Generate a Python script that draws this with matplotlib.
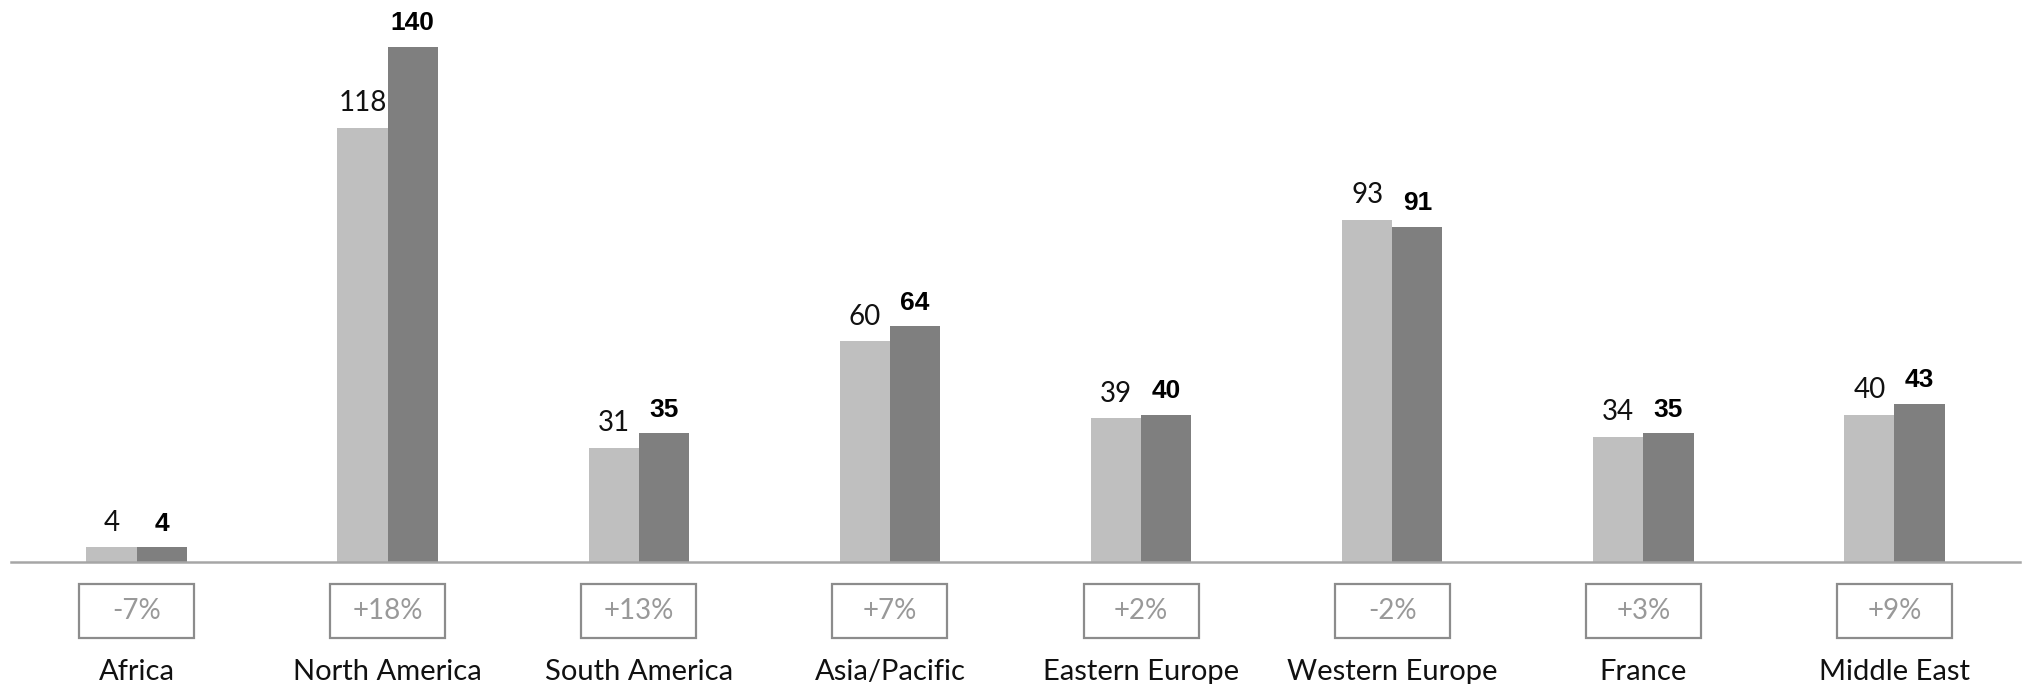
import matplotlib
matplotlib.use("Agg")
import matplotlib.pyplot as plt
from matplotlib.patches import Rectangle
import numpy as np

regions = ["Africa", "North America", "South America", "Asia/Pacific",
           "Eastern Europe", "Western Europe", "France", "Middle East"]
prev_year = [4, 118, 31, 60, 39, 93, 34, 40]
this_year = [4, 140, 35, 64, 40, 91, 35, 43]
growth = ["-7%", "+18%", "+13%", "+7%", "+2%", "-2%", "+3%", "+9%"]

light = "#bfbfbf"
dark = "#7f7f7f"

plt.rcParams["font.family"] = ["Lato", "DejaVu Sans"]

fig = plt.figure(figsize=(20.3, 6.84), dpi=100)
ax = fig.add_axes([11 / 2030, (684 - 562) / 684, 2009 / 2030, 562 / 684])

x = np.arange(len(regions))
w = 0.2
b1 = ax.bar(x - w / 2, prev_year, w, color=light, zorder=2)
b2 = ax.bar(x + w / 2, this_year, w, color=dark, zorder=2)

for rect, v in zip(b1, prev_year):
    ax.annotate(str(v), (rect.get_x() + rect.get_width() / 2, v),
                xytext=(0, 12), textcoords="offset points",
                ha="center", va="baseline", fontsize=20, color="#111111")
for rect, v in zip(b2, this_year):
    ax.annotate(str(v), (rect.get_x() + rect.get_width() / 2, v),
                xytext=(0, 12), textcoords="offset points",
                ha="center", va="baseline", fontsize=19, fontweight="bold",
                family=["Liberation Sans", "DejaVu Sans"], color="#000000")

ax.set_xlim(-0.5, 7.5)
ax.set_ylim(0, 152.7)
for s in ["top", "right", "left"]:
    ax.spines[s].set_visible(False)
ax.spines["bottom"].set_color("#a6a6a6")
ax.spines["bottom"].set_linewidth(1.8)
ax.set_yticks([])
ax.set_xticks([])

# growth boxes and region names under the axis
tr = ax.get_xaxis_transform()
bw = 115 / 251
for i, (name, g) in enumerate(zip(regions, growth)):
    ax.add_patch(Rectangle((i - bw / 2, -0.1358), bw, 0.0961, transform=tr,
                           fill=False, edgecolor="#8c8c8c", linewidth=1.6,
                           clip_on=False))
    ax.text(i, -0.0877, g, transform=tr, ha="center", va="center",
            fontsize=20, color="#999999")
    ax.text(i, -0.172, name, transform=tr, ha="center", va="top",
            fontsize=21, color="#111111")

fig.savefig("out.png", dpi=100)
